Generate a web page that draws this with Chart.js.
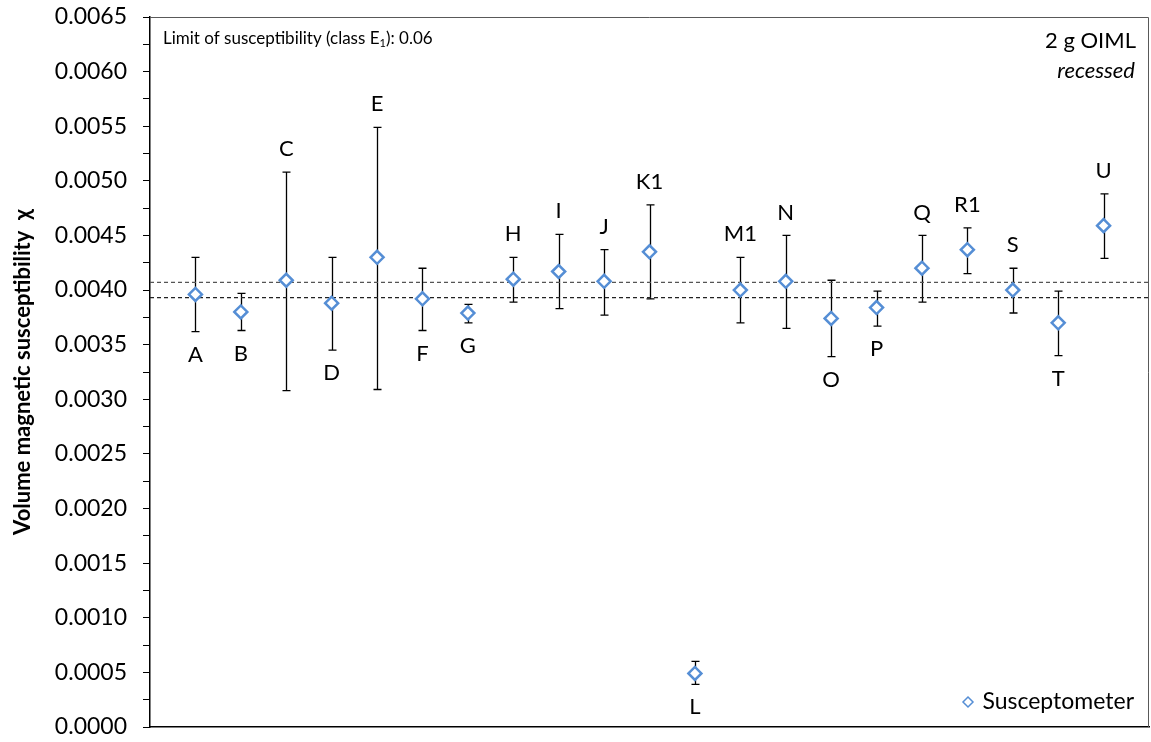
<!DOCTYPE html>
<html>
<head>
<meta charset="utf-8">
<script src="https://cdn.jsdelivr.net/npm/chart.js@4.4.1/dist/chart.umd.min.js"></script>
<style>
  html, body { margin: 0; padding: 0; background: #fff; overflow: hidden; }
  canvas { display: block; }
</style>
</head>
<body>
<canvas id="chart" width="1151" height="742"></canvas>
<script>
// Laboratory codes, in plotting order
const labs = ['A', 'B', 'C', 'D', 'E', 'F', 'G', 'H', 'I', 'J', 'K1', 'L', 'M1', 'N', 'O', 'P', 'Q', 'R1', 'S', 'T', 'U'];
const chi = [0.00396, 0.00380, 0.00409, 0.00388, 0.00430, 0.00392, 0.00379, 0.00410, 0.00417, 0.00408, 0.00435,
  0.00049, 0.00400, 0.00408, 0.00374, 0.00384, 0.00420, 0.00437, 0.00400, 0.00370, 0.00459];
const chiHigh = [0.00430, 0.00397, 0.00508, 0.00430, 0.00549, 0.00420, 0.00387, 0.00430, 0.00451, 0.00437, 0.00478,
  0.00060, 0.00430, 0.00450, 0.00409, 0.00399, 0.00450, 0.00457, 0.00420, 0.00399, 0.00488];
const chiLow = [0.00362, 0.00363, 0.00308, 0.00345, 0.00309, 0.00363, 0.00370, 0.00389, 0.00383, 0.00377, 0.00392,
  0.00039, 0.00370, 0.00365, 0.00339, 0.00367, 0.00389, 0.00415, 0.00379, 0.00340, 0.00429];
// which side of the error bar the lab code sits on
const labelSide = ['below', 'below', 'above', 'below', 'above', 'below', 'below', 'above', 'above', 'above', 'above',
  'below', 'above', 'above', 'below', 'below', 'above', 'above', 'above', 'below', 'above'];
// reference value band (dashed lines)
const refBand = [0.00407, 0.00393];
const yTicks = [0, 0.0065, 0.00025];

const FONT = 'Lato, "Open Sans", sans-serif';
const BLUE = '#558ed5';

const xPos = labs.map((_, i) => i + 1);

const overlay = {
  id: 'overlay',
  beforeDatasetsDraw(chart) {
    const { ctx, scales: { x, y } } = chart;
    ctx.save();
    ctx.strokeStyle = '#000';
    ctx.lineWidth = 1.3;
    chi.forEach((v, i) => {
      const px = Math.round(x.getPixelForValue(xPos[i])) + 0.5;
      const t = y.getPixelForValue(chiHigh[i]);
      const b = y.getPixelForValue(chiLow[i]);
      ctx.beginPath();
      ctx.moveTo(px, t); ctx.lineTo(px, b);
      ctx.moveTo(px - 4, t); ctx.lineTo(px + 4, t);
      ctx.moveTo(px - 4, b); ctx.lineTo(px + 4, b);
      ctx.stroke();
    });
    ctx.restore();
  },
  afterDatasetsDraw(chart) {
    const { ctx, chartArea: a, scales: { x, y } } = chart;
    ctx.save();
    // frame on top and right
    ctx.strokeStyle = '#595959';
    ctx.lineWidth = 1;
    ctx.beginPath();
    ctx.moveTo(a.left, a.top + 0.5); ctx.lineTo(a.right - 0.5, a.top + 0.5); ctx.lineTo(a.right - 0.5, a.bottom);
    ctx.stroke();

    // lab codes
    ctx.fillStyle = '#000';
    ctx.font = '22px ' + FONT;
    ctx.textAlign = 'center';
    ctx.textBaseline = 'middle';
    labs.forEach((lab, i) => {
      const px = x.getPixelForValue(xPos[i]);
      const py = labelSide[i] === 'above'
        ? y.getPixelForValue(chiHigh[i]) - 23
        : y.getPixelForValue(chiLow[i]) + 23;
      ctx.fillText(lab, px, py);
    });

    // annotation top left
    ctx.textAlign = 'left';
    ctx.font = '17px ' + FONT;
    const s1 = 'Limit of susceptibility (class E';
    ctx.fillText(s1, a.left + 13, a.top + 22);
    let w = ctx.measureText(s1).width;
    ctx.font = '11px ' + FONT;
    ctx.fillText('1', a.left + 13 + w, a.top + 26);
    w += ctx.measureText('1').width;
    ctx.font = '17px ' + FONT;
    ctx.fillText('): 0.06', a.left + 13 + w, a.top + 22);

    // annotation top right
    ctx.textAlign = 'right';
    ctx.font = '22px ' + FONT;
    ctx.fillText('2 g OIML', a.right - 13, a.top + 24);
    ctx.font = 'italic 22px ' + FONT;
    ctx.fillText('recessed', a.right - 14, a.top + 54);

    // legend
    ctx.textAlign = 'right';
    ctx.font = '23px ' + FONT;
    ctx.fillText('Susceptometer', a.right - 15, a.bottom - 25);
    const lx = a.right - 181, ly = a.bottom - 25;
    ctx.strokeStyle = BLUE;
    ctx.lineWidth = 1.5;
    ctx.fillStyle = '#fff';
    ctx.beginPath();
    ctx.moveTo(lx, ly - 5); ctx.lineTo(lx + 5, ly); ctx.lineTo(lx, ly + 5); ctx.lineTo(lx - 5, ly); ctx.closePath();
    ctx.fill(); ctx.stroke();
    ctx.restore();
  }
};

const refDatasets = refBand.map((v, k) => ({
  type: 'line',
  data: [{ x: 0, y: v }, { x: 22, y: v }],
  borderColor: k === 0 ? '#555' : '#222',
  borderWidth: 1.2,
  borderDash: [4, 3],
  pointRadius: 0,
  order: 2
}));

new Chart(document.getElementById('chart'), {
  type: 'scatter',
  data: {
    datasets: [{
      label: 'Susceptometer',
      data: chi.map((v, i) => ({ x: xPos[i], y: v })),
      pointStyle: 'rectRot',
      pointRadius: 6.5,
      pointBorderWidth: 2.5,
      pointBorderColor: BLUE,
      pointBackgroundColor: '#fff',
      order: 1
    }, ...refDatasets]
  },
  options: {
    responsive: false,
    devicePixelRatio: 1,
    animation: false,
    layout: { autoPadding: false, padding: { top: 17, right: 2, bottom: 15, left: 0 } },
    plugins: { legend: { display: false }, tooltip: { enabled: false } },
    scales: {
      x: {
        type: 'linear',
        min: 0,
        max: 22,
        afterFit(scale) { scale.height = 0; scale.paddingLeft = 0; scale.paddingRight = 0; },
        ticks: { display: false },
        grid: { display: false, drawTicks: false },
        border: { display: true, color: '#000', width: 1.5 }
      },
      y: {
        min: yTicks[0],
        max: yTicks[1],
        afterFit(scale) {
          scale.width = 150;
          scale.paddingTop = 0;
          scale.paddingBottom = 0;
        },
        ticks: {
          stepSize: yTicks[2],
          autoSkip: false,
          color: '#000',
          padding: 16,
          font: { family: FONT, size: 23 },
          callback: (v) => Math.round(v / yTicks[2]) % 2 === 0 ? v.toFixed(4) : ''
        },
        grid: { drawOnChartArea: false, tickLength: 7, color: '#000', tickColor: '#000' },
        border: { display: true, color: '#000', width: 1.5 },
        title: {
          display: true,
          text: 'Volume magnetic susceptibility  \u03C7',
          color: '#000',
          font: { family: FONT, size: 22, weight: 'bold' },
          padding: { top: 10, bottom: 0 }
        }
      }
    }
  },
  plugins: [overlay]
});
</script>
</body>
</html>
